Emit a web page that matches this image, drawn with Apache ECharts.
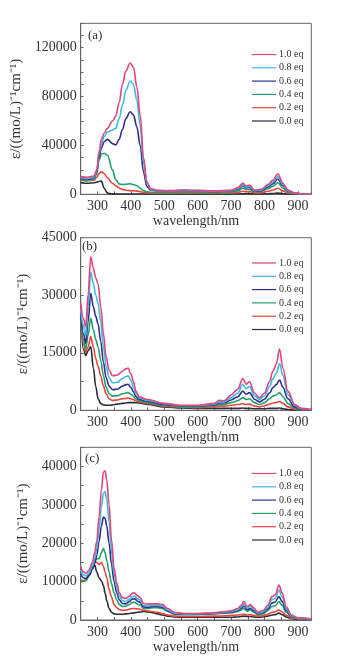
<!DOCTYPE html>
<html>
<head>
<meta charset="utf-8">
<script src="https://cdn.jsdelivr.net/npm/echarts@6/dist/echarts.min.js"></script>
<style>html,body{margin:0;padding:0;background:#fff;}#main{width:345px;height:656px;}</style>
</head>
<body>
<div id="main"></div>
<script>
// ---- data ----
const seriesNames = ['1.0 eq', '0.8 eq', '0.6 eq', '0.4 eq', '0.2 eq', '0.0 eq'];
const panelLabels = ['(a)', '(b)', '(c)'];
const xTickLabels = [300, 400, 500, 600, 700, 800, 900];
const yTickLabelsA = [0, 40000, 80000, 120000];
const yTickLabelsB = [0, 15000, 30000, 45000];
const yTickLabelsC = [0, 10000, 20000, 30000, 40000];

// panel (a)
const wlA = [250, 270, 290, 298, 305, 312, 320, 330, 345, 355, 365, 375, 385, 398, 408, 418, 428, 438, 448, 460, 480, 520, 560, 600, 650, 700, 720, 735, 745, 755, 770, 790, 810, 825, 840, 855, 870, 890, 910, 940];
const a10 = [14500, 14000, 15000, 20000, 35000, 45000, 50000, 54000, 60000, 64000, 75000, 90000, 101000, 107500, 104000, 88000, 65000, 30000, 10000, 4500, 3200, 3000, 3500, 3200, 2800, 3200, 5500, 9000, 7000, 7500, 3500, 4000, 8000, 11500, 16800, 9000, 3500, 1200, 400, 200];
const a08 = [13500, 13000, 14000, 19000, 33000, 42000, 47000, 51000, 52500, 54000, 62000, 73000, 85000, 92800, 90000, 77000, 56000, 26000, 9000, 4000, 3000, 2800, 3200, 3000, 2600, 3000, 4800, 7800, 6000, 6500, 3000, 3500, 7000, 10000, 14500, 8000, 3000, 1000, 300, 150];
const a06 = [13000, 12500, 13500, 18000, 30000, 38000, 43000, 45000, 41500, 40500, 45000, 53000, 62000, 67600, 65000, 55000, 40000, 18000, 6500, 3500, 2800, 2600, 3000, 2800, 2400, 2800, 4200, 6800, 5300, 5700, 2700, 3000, 6000, 8500, 12500, 7000, 2700, 900, 300, 100];
const a04 = [12000, 11500, 12500, 17000, 28000, 33000, 33600, 32000, 20000, 12000, 8500, 8000, 8200, 8600, 8000, 7000, 5000, 3000, 2000, 1700, 1600, 1600, 1800, 1700, 1500, 1800, 2800, 5000, 3800, 4000, 2000, 2300, 4500, 6500, 9500, 5200, 2000, 700, 200, 100];
const a02 = [11500, 11000, 11500, 14000, 17000, 18500, 17000, 13500, 9000, 7000, 5200, 4000, 3300, 3000, 2900, 2600, 2200, 1700, 1300, 1100, 1000, 1000, 1100, 1100, 1000, 1100, 1500, 2500, 2000, 2200, 1100, 1300, 2500, 3500, 5000, 2800, 1100, 400, 100, 50];
const a00 = [9500, 9000, 9500, 10000, 10500, 10800, 5000, 1000, 400, 300, 200, 200, 200, 200, 200, 200, 200, 200, 200, 200, 200, 200, 200, 200, 200, 200, 300, 500, 400, 400, 300, 300, 500, 700, 1000, 500, 200, 100, 50, 0];

// panel (b)
const wlB = [250, 258, 265, 272, 280, 288, 295, 302, 310, 318, 326, 335, 345, 360, 375, 385, 392, 400, 408, 415, 425, 450, 500, 550, 600, 650, 665, 680, 700, 720, 735, 745, 755, 770, 785, 800, 815, 825, 835, 845, 855, 870, 890, 910, 940];
const b10 = [28000, 24000, 21800, 30000, 40000, 37000, 34500, 33000, 27000, 20000, 14000, 10500, 9000, 9200, 10200, 10800, 11000, 9500, 7500, 5000, 3500, 2800, 1800, 1300, 1300, 1800, 2600, 2500, 4000, 5500, 8300, 6800, 7500, 4500, 3300, 4500, 7500, 10200, 12000, 16000, 11000, 5000, 1500, 500, 200];
const b08 = [26500, 22000, 19500, 27000, 36000, 33000, 30000, 28000, 23000, 16500, 11500, 8500, 7200, 7300, 8300, 8800, 9000, 7800, 6000, 4300, 3200, 2600, 1700, 1200, 1200, 1600, 2200, 2200, 3300, 4500, 6800, 5600, 6200, 3800, 2800, 3800, 6200, 8200, 9600, 12200, 9000, 4200, 1300, 400, 150];
const b06 = [25500, 20000, 17500, 23000, 30500, 27000, 24500, 22500, 18000, 12500, 8500, 6300, 5400, 5500, 6300, 6700, 6800, 6000, 4800, 3600, 2800, 2300, 1500, 1100, 1100, 1400, 1900, 1900, 2700, 3500, 5000, 4200, 4600, 2900, 2200, 2900, 4500, 5900, 6700, 7900, 6000, 3000, 900, 300, 100];
const b04 = [24500, 18500, 16000, 19500, 24000, 21000, 18500, 16500, 13000, 9000, 6000, 4300, 3700, 3800, 4300, 4500, 4600, 4200, 3600, 3000, 2500, 2000, 1300, 900, 900, 1200, 1500, 1500, 2000, 2500, 3300, 2800, 3000, 2000, 1500, 2000, 3000, 3700, 4000, 4600, 3600, 1800, 600, 200, 80];
const b02 = [24000, 17500, 15200, 16500, 19200, 16500, 13500, 11500, 9000, 6300, 4300, 3000, 2600, 2700, 3000, 3100, 3200, 3000, 2800, 2500, 2200, 1800, 1100, 800, 700, 900, 1100, 1100, 1300, 1500, 1700, 1500, 1600, 1100, 900, 1200, 1600, 1900, 2000, 2300, 1800, 900, 300, 100, 50];
const b00 = [25000, 16000, 14300, 15500, 16600, 11000, 6200, 3000, 1800, 1400, 1300, 1300, 1400, 1600, 1800, 1900, 2000, 2000, 2000, 2000, 1900, 1500, 900, 600, 500, 500, 500, 500, 500, 500, 600, 500, 500, 400, 400, 400, 500, 500, 500, 600, 400, 200, 100, 50, 0];

// panel (c)
const wlC = [250, 258, 266, 275, 285, 292, 298, 305, 312, 318, 323, 328, 335, 342, 350, 358, 366, 375, 385, 395, 405, 412, 420, 428, 438, 450, 465, 480, 495, 510, 530, 560, 600, 650, 680, 700, 720, 730, 738, 748, 758, 768, 780, 795, 810, 822, 832, 843, 853, 865, 880, 900, 940];
const c10 = [14000, 12500, 12200, 13000, 15000, 17500, 20500, 27000, 34000, 38500, 38900, 36500, 30000, 21000, 13500, 9600, 7000, 5800, 5600, 6200, 7000, 7000, 6300, 5900, 4300, 4200, 4200, 4200, 4000, 3000, 2000, 1700, 1700, 1900, 2200, 2400, 3000, 3800, 4800, 3500, 4000, 3200, 2000, 2400, 3800, 6100, 6500, 9100, 7000, 3500, 1300, 600, 300];
const c08 = [13000, 11800, 11500, 12300, 14000, 16000, 18500, 23500, 29500, 33000, 33400, 31500, 25500, 18000, 12000, 8500, 6300, 5000, 4800, 5400, 6200, 6200, 5500, 5200, 3800, 3700, 3800, 3800, 3600, 2600, 1800, 1600, 1600, 1800, 2000, 2200, 2700, 3400, 4200, 3100, 3500, 2800, 1800, 2100, 3300, 5300, 5600, 7800, 6000, 3000, 1100, 500, 250];
const c06 = [12000, 11000, 10800, 11600, 13200, 14800, 16800, 20500, 24500, 26800, 26500, 24500, 20000, 14500, 10000, 7000, 5200, 4300, 4200, 4800, 5500, 5500, 4900, 4600, 3400, 3300, 3500, 3500, 3300, 2400, 1600, 1500, 1500, 1700, 1900, 2000, 2500, 3000, 3600, 2700, 3000, 2400, 1600, 1900, 2900, 4400, 4700, 6100, 4800, 2500, 1000, 450, 200];
const c04 = [10500, 10200, 10300, 11500, 13500, 15500, 16000, 16000, 17500, 18700, 17500, 15500, 12500, 9500, 7000, 5200, 4000, 3500, 3600, 4000, 4600, 4600, 4100, 3900, 3000, 3000, 3200, 3200, 3000, 2200, 1500, 1400, 1400, 1600, 1800, 1900, 2200, 2600, 3000, 2300, 2600, 2000, 1400, 1600, 2400, 3500, 3700, 4800, 3800, 2000, 800, 400, 150];
const c02 = [10200, 10200, 10500, 12000, 14000, 15300, 15000, 14500, 15000, 14000, 12500, 11000, 8000, 6000, 4000, 3200, 2700, 2500, 2600, 2800, 3000, 3000, 2900, 2800, 2500, 2400, 2200, 2000, 1700, 1300, 1000, 900, 900, 1000, 1100, 1200, 1300, 1400, 1500, 1300, 1400, 1200, 1000, 1100, 1500, 2000, 2100, 2600, 2100, 1200, 500, 300, 100];
const c00 = [10000, 10100, 10400, 11800, 13500, 14300, 12500, 11000, 10200, 9000, 7000, 5000, 3000, 2000, 1600, 1500, 1500, 1500, 1600, 1700, 1800, 1900, 2000, 2100, 2200, 2100, 1900, 1600, 1300, 1000, 800, 700, 700, 700, 700, 700, 800, 900, 1000, 900, 900, 800, 700, 800, 1000, 1300, 1400, 1800, 1400, 800, 400, 200, 100];

// ---- build ----
const colors = ['#e0457b', '#3cb9e4', '#2e3086', '#22a06b', '#e8453c', '#2d2d3a'];
const panels = [
  { wl: wlA, vals: [a10, a08, a06, a04, a02, a00], yMax: 140000, yInt: 10000, yLabels: yTickLabelsA, top: 23.3, height: 171, legTop: 44.5, lab: [88, 29] },
  { wl: wlB, vals: [b10, b08, b06, b04, b02, b00], yMax: 45000, yInt: 7500, yLabels: yTickLabelsB, top: 237.7, height: 172.6, legTop: 253, lab: [82, 240] },
  { wl: wlC, vals: [c10, c08, c06, c04, c02, c00], yMax: 45000, yInt: 5000, yLabels: yTickLabelsC, top: 447.3, height: 172.7, legTop: 463.5, lab: [85, 452] }
];
const FONT = '"Liberation Serif", "Times New Roman", serif';
const txt = '#333';

const grid = [], xAxis = [], yAxis = [], series = [], legend = [], graphic = [];
panels.forEach((p, k) => {
  grid.push({ left: 80.7, width: 230.6, top: p.top, height: p.height, show: true, borderColor: '#666', borderWidth: 1, backgroundColor: 'transparent' });
  xAxis.push({
    type: 'value', gridIndex: k, min: 250, max: 940, interval: 50,
    name: 'wavelength/nm', nameLocation: 'middle', nameGap: 17,
    nameTextStyle: { fontFamily: FONT, fontSize: 14, color: txt },
    axisLine: { show: true, lineStyle: { color: '#666' } },
    axisTick: { show: true, inside: true, length: 3, lineStyle: { color: '#666' } },
    splitLine: { show: false },
    axisLabel: { margin: 5, fontFamily: FONT, fontSize: 14, color: txt,
      formatter: v => (xTickLabels.indexOf(v) >= 0 ? String(v) : '') }
  });
  yAxis.push({
    type: 'value', gridIndex: k, min: 0, max: p.yMax, interval: p.yInt,
    name: 'ε/((mo/L)⁻¹cm⁻¹)', nameLocation: 'middle', nameGap: 36, nameRotate: 90,
    nameTextStyle: { fontFamily: FONT, fontSize: 15, color: txt },
    axisLine: { show: true, lineStyle: { color: '#666' } },
    axisTick: { show: true, inside: true, length: 3, lineStyle: { color: '#666' } },
    splitLine: { show: false },
    axisLabel: { margin: 4, fontFamily: FONT, fontSize: 14, color: txt,
      formatter: v => (p.yLabels.indexOf(v) >= 0 ? String(v) : '') }
  });
  for (let s = seriesNames.length - 1; s >= 0; s--) {
    series.push({
      type: 'line', name: seriesNames[s], xAxisIndex: k, yAxisIndex: k,
      data: p.wl.map((w, i) => [w, p.vals[s][i]]),
      showSymbol: false, smooth: 0.35, smoothMonotone: 'x',
      lineStyle: { width: 1.6, color: colors[s] }, itemStyle: { color: colors[s] },
      animation: false
    });
  }
  legend.push({
    orient: 'vertical', left: 247, top: p.legTop,
    data: seriesNames, icon: 'rect', itemWidth: 24, itemHeight: 1.2, itemGap: 3.3,
    textStyle: { fontFamily: FONT, fontSize: 10, color: txt, padding: [0, 0, 0, -2] },
    selectedMode: false
  });
  graphic.push({ type: 'text', left: p.lab[0], top: p.lab[1],
    style: { text: panelLabels[k], font: '13px ' + FONT, fill: txt } });
});

const chart = echarts.init(document.getElementById('main'), null, { renderer: 'canvas' });
chart.setOption({
  backgroundColor: '#fff', animation: false, color: colors,
  grid, xAxis, yAxis, series, legend, graphic
});
</script>
</body>
</html>
